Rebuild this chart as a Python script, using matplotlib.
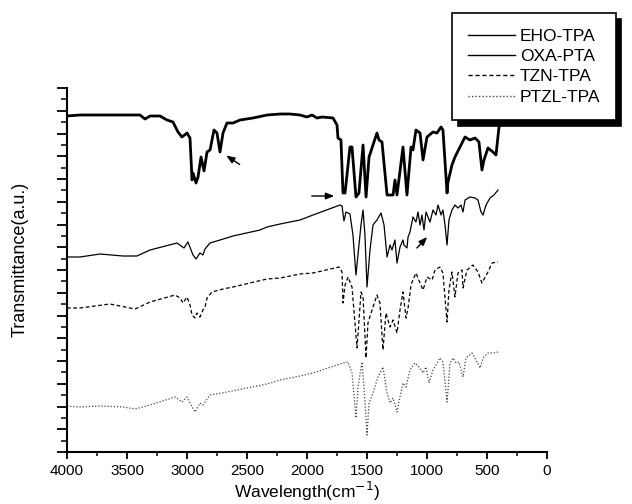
import matplotlib
matplotlib.use("Agg")
import matplotlib.pyplot as plt
from matplotlib.ticker import MultipleLocator, NullFormatter

plt.rcParams['font.family'] = ['Liberation Sans', 'DejaVu Sans']

# Estimated spectra (wavenumber in cm-1, transmittance in a.u., traces offset)
eho_w = [4000, 3892, 3725, 3450, 3392, 3350, 3308, 3225, 3167, 3117, 3075, 3042, 3000, 2975,
         2958, 2950, 2925, 2908, 2883, 2858, 2833, 2808, 2775, 2750, 2725, 2700, 2667, 2617,
         2558, 2450, 2333, 2225, 2142, 2058, 2000, 1958, 1917, 1875, 1783, 1750, 1742, 1717,
         1700, 1683, 1642, 1625, 1592, 1567, 1533, 1508, 1483, 1450, 1417, 1400, 1375, 1333,
         1283, 1267, 1250, 1200, 1167, 1133, 1117, 1092, 1058, 1033, 1000, 950, 917, 883, 867,
         833, 825, 792, 767, 725, 683, 642, 600, 567, 542, 525, 492, 450, 425, 400]
eho_t = [3.36, 3.37, 3.37, 3.37, 3.37, 3.33, 3.36, 3.36, 3.32, 3.30, 3.20, 3.15, 3.19, 3.14,
         2.72, 2.79, 2.69, 2.75, 2.95, 2.81, 3.00, 3.02, 3.22, 3.19, 3.00, 3.19, 3.29, 3.29,
         3.32, 3.34, 3.37, 3.38, 3.38, 3.37, 3.35, 3.37, 3.34, 3.35, 3.34, 3.27, 3.14, 3.12,
         2.59, 2.59, 3.05, 3.05, 2.55, 2.59, 3.07, 2.55, 2.95, 3.07, 3.19, 3.12, 3.10, 2.57,
         2.57, 2.72, 2.57, 3.05, 2.57, 3.05, 3.02, 3.22, 3.19, 2.92, 3.15, 3.20, 3.19, 3.25, 3.22,
         2.59, 2.70, 2.87, 2.95, 3.05, 3.15, 3.12, 3.14, 3.10, 2.82, 2.92, 3.04, 3.00, 2.97, 3.25]

oxa_w = [4000, 3892, 3725, 3533, 3417, 3308, 3083, 3025, 2992, 2950, 2925, 2892, 2867, 2850,
         2808, 2725, 2617, 2392, 2333, 2225, 2058, 1950, 1725, 1708, 1692, 1675, 1642, 1617,
         1592, 1567, 1550, 1533, 1517, 1500, 1475, 1450, 1417, 1383, 1358, 1333, 1308, 1292,
         1267, 1250, 1225, 1200, 1192, 1167, 1158, 1142, 1117, 1092, 1075, 1058, 1042, 1025,
         1008, 975, 950, 925, 908, 883, 867, 850, 833, 817, 792, 767, 742, 717, 700, 683, 642,
         600, 575, 550, 533, 508, 475, 442, 408]
oxa_t = [1.95, 1.95, 1.98, 1.96, 1.96, 2.02, 2.09, 2.04, 2.10, 1.97, 1.93, 1.99, 1.97, 2.03,
         2.09, 2.12, 2.16, 2.22, 2.25, 2.28, 2.32, 2.37, 2.47, 2.46, 2.31, 2.40, 2.38, 2.17,
         1.77, 2.07, 2.27, 2.42, 2.17, 1.65, 2.02, 2.27, 2.32, 2.39, 2.27, 1.95, 2.07, 2.02,
         2.12, 1.89, 2.05, 2.12, 2.07, 2.04, 2.15, 2.20, 2.35, 2.30, 2.40, 2.27, 2.37, 2.22,
         2.40, 2.30, 2.42, 2.37, 2.47, 2.37, 2.42, 2.27, 2.07, 2.32, 2.42, 2.47, 2.44, 2.47,
         2.40, 2.52, 2.55, 2.54, 2.52, 2.40, 2.37, 2.47, 2.54, 2.57, 2.62]

tzn_w = [4000, 3892, 3642, 3433, 3308, 3100, 3058, 3033, 3000, 2975, 2958, 2933, 2917, 2892,
         2867, 2850, 2833, 2792, 2700, 2617, 2333, 2225, 2058, 1950, 1733, 1708, 1700, 1683,
         1658, 1625, 1583, 1550, 1533, 1508, 1492, 1458, 1417, 1392, 1367, 1342, 1308, 1283,
         1250, 1225, 1200, 1175, 1158, 1133, 1117, 1092, 1058, 1033, 1000, 958, 933, 892, 867,
         833, 817, 792, 767, 742, 708, 700, 667, 617, 575, 542, 492, 458, 408]
tzn_t = [1.44, 1.44, 1.48, 1.43, 1.50, 1.57, 1.54, 1.49, 1.55, 1.47, 1.37, 1.34, 1.39, 1.35,
         1.42, 1.45, 1.54, 1.60, 1.63, 1.65, 1.73, 1.74, 1.78, 1.79, 1.85, 1.80, 1.49, 1.67,
         1.75, 1.65, 1.04, 1.60, 1.55, 0.94, 1.29, 1.42, 1.57, 1.49, 1.02, 1.39, 1.25, 1.32,
         1.19, 1.42, 1.60, 1.34, 1.44, 1.67, 1.72, 1.79, 1.69, 1.62, 1.75, 1.72, 1.82, 1.85, 1.79,
         1.30, 1.62, 1.80, 1.55, 1.79, 1.82, 1.64, 1.82, 1.87, 1.80, 1.69, 1.80, 1.89, 1.90]

ptzl_w = [4000, 3892, 3725, 3533, 3433, 3308, 3100, 3042, 3000, 2975, 2933, 2892, 2867, 2808,
          2667, 2333, 2225, 2058, 1950, 1700, 1658, 1625, 1592, 1575, 1542, 1525, 1500, 1483,
          1450, 1408, 1367, 1333, 1308, 1283, 1250, 1225, 1200, 1175, 1142, 1100, 1067, 1033,
          1008, 983, 950, 892, 867, 833, 808, 783, 758, 733, 700, 675, 625, 583, 558, 533, 492,
          450, 408]
ptzl_t = [0.46, 0.45, 0.46, 0.45, 0.43, 0.47, 0.55, 0.50, 0.55, 0.49, 0.40, 0.49, 0.47, 0.57,
          0.60, 0.68, 0.72, 0.76, 0.79, 0.89, 0.90, 0.79, 0.34, 0.65, 0.90, 0.65, 0.17, 0.49,
          0.59, 0.75, 0.85, 0.59, 0.49, 0.54, 0.40, 0.55, 0.69, 0.65, 0.82, 0.89, 0.85, 0.79,
          0.85, 0.69, 0.82, 0.94, 0.90, 0.50, 0.89, 0.94, 0.89, 0.90, 0.75, 0.94, 0.99, 0.90,
          0.84, 0.94, 0.99, 0.99, 1.00]

labels = ["EHO-TPA", "OXA-PTA", "TZN-TPA", "PTZL-TPA"]

fig = plt.figure(figsize=(6.32, 5.04), dpi=100)
ax = fig.add_axes([67 / 632, 52 / 504, 480 / 632, 364 / 504])

ax.plot(eho_w, eho_t, color="black", lw=2.0, label=labels[0])
ax.plot(oxa_w, oxa_t, color="black", lw=0.9, label=labels[1])
ax.plot(tzn_w, tzn_t, color="black", lw=0.9, ls=(0, (3, 2)), label=labels[2])
ax.plot(ptzl_w, ptzl_t, color="#444444", lw=0.9, ls=(0, (1, 1.5)), label=labels[3])

# arrows marking bands
arrow = dict(arrowstyle="-|>,head_length=0.5,head_width=0.2", color="black", lw=1.0)
ax.annotate("", xy=(2692, 2.98), xytext=(2542, 2.86), arrowprops=arrow)
ax.annotate("", xy=(1750, 2.56), xytext=(1983, 2.56), arrowprops=arrow)
ax.annotate("", xy=(983, 2.17), xytext=(1100, 2.02), arrowprops=arrow)

ax.set_xlim(4000, 0)
ax.set_ylim(0, 3.64)
ax.xaxis.set_major_locator(MultipleLocator(500))
ax.xaxis.set_minor_locator(MultipleLocator(250))
ax.yaxis.set_major_locator(MultipleLocator(0.2275))
ax.yaxis.set_minor_locator(MultipleLocator(0.11375))
ax.yaxis.set_major_formatter(NullFormatter())

for side in ("top", "right"):
    ax.spines[side].set_visible(False)
for side in ("left", "bottom"):
    ax.spines[side].set_linewidth(1.5)
ax.tick_params(axis="both", which="major", direction="out", width=1.3, labelsize=11)
ax.tick_params(axis="x", which="major", length=5)
ax.tick_params(axis="x", which="minor", length=3, width=1.1)
ax.tick_params(axis="y", which="major", length=7)
ax.tick_params(axis="y", which="minor", length=4, width=1.1)

ax.set_xlabel("Wavelength(cm$^{-1}$)", fontsize=12.5)
ax.set_ylabel("Transmittance(a.u.)", fontsize=13)
ax.xaxis.set_label_coords(0.5, -0.078)
ax.yaxis.set_label_coords(-0.08, 0.53)

leg = fig.legend(loc="upper left", bbox_to_anchor=(452 / 632, 1 - 13 / 504), fontsize=12.5,
                 frameon=True, fancybox=False, edgecolor="black", framealpha=1,
                 handlelength=2.7, handletextpad=0.3, borderpad=0.9, labelspacing=0.3,
                 borderaxespad=0,
                 shadow={"ox": 4, "oy": -4, "facecolor": "black", "edgecolor": "black", "alpha": 1})
leg.get_frame().set_linewidth(1.2)
for line in leg.get_lines():
    line.set_linewidth(1.0)

fig.savefig("out.png", dpi=100)
